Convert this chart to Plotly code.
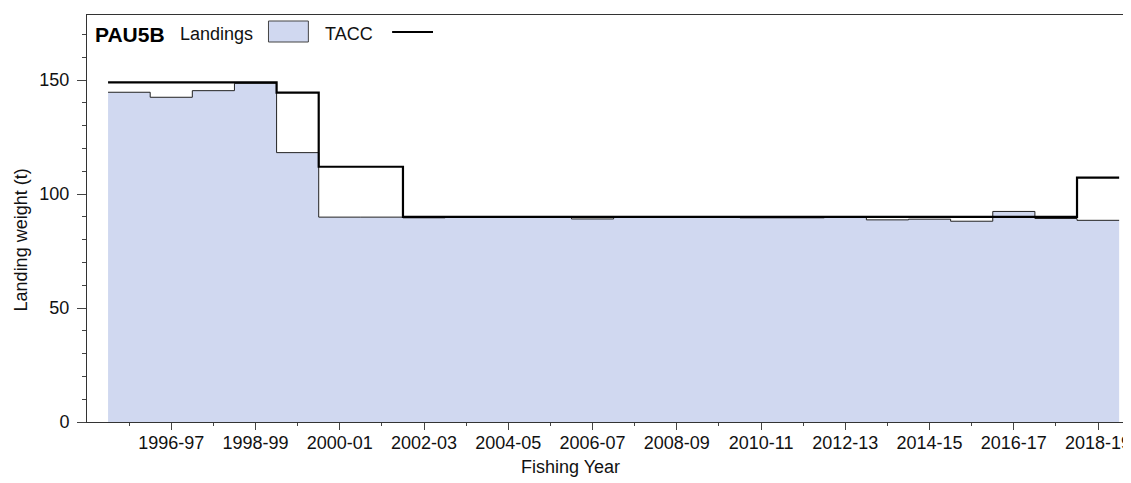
import plotly.graph_objects as go

# Fishing years (one step per year)
seasons = ['1995-96', '1996-97', '1997-98', '1998-99', '1999-00', '2000-01',
           '2001-02', '2002-03', '2003-04', '2004-05', '2005-06', '2006-07',
           '2007-08', '2008-09', '2009-10', '2010-11', '2011-12', '2012-13',
           '2013-14', '2014-15', '2015-16', '2016-17', '2017-18', '2018-19']

# Landings (t) and TACC (t)
landings = [144.7, 142.5, 145.4, 148.6, 118.2, 89.9, 89.9, 89.6, 90.0, 90.0,
            90.0, 89.1, 90.0, 90.0, 90.0, 89.6, 89.6, 90.0, 88.7, 89.0,
            88.1, 92.4, 89.3, 88.5]
tacc = [149.0, 149.0, 149.0, 149.0, 144.5, 112.0, 112.0, 90.0, 90.0, 90.0,
        90.0, 90.0, 90.0, 90.0, 90.0, 90.0, 90.0, 90.0, 90.0, 90.0,
        90.0, 90.0, 90.0, 107.2]

# step edges: each year occupies [i-0.5, i+0.5]
idx = list(range(len(seasons)))
edges = [i - 0.5 for i in idx] + [idx[-1] + 0.5]
land_y = landings + [landings[-1]]
tacc_y = tacc + [tacc[-1]]

font = 'Liberation Sans, Arial, sans-serif'
fill_col = '#d0d8f0'

fig = go.Figure()
fig.add_trace(go.Scatter(x=edges, y=land_y, mode='lines', line_shape='hv',
                         fill='tozeroy', fillcolor=fill_col,
                         line=dict(color='#222222', width=1),
                         hoverinfo='skip', name='Landings'))
fig.add_trace(go.Scatter(x=edges, y=tacc_y, mode='lines', line_shape='hv',
                         line=dict(color='black', width=2.2),
                         name='TACC'))

major = [i for i in idx if i % 2 == 1]
minor = [i for i in idx if i % 2 == 0]

# the page body has an 8px margin, so the figure is 8px smaller and margins shifted
fig.update_layout(
    width=1123, height=475,
    margin=dict(l=79, r=0, t=7, b=61),
    plot_bgcolor='white', paper_bgcolor='white',
    showlegend=False,
    font=dict(family=font, size=18, color='#111111'),
    xaxis=dict(range=[-1, 23.71], tickmode='array', tickvals=major,
               ticktext=[seasons[i] for i in major],
               ticks='outside', ticklen=7, tickcolor='#444', tickwidth=1,
               minor=dict(tickmode='array', tickvals=minor, ticks='outside',
                          ticklen=3, tickcolor='#444'),
               showline=True, linecolor='#333', linewidth=1, mirror=True,
               showgrid=False, zeroline=False, ticklabelstandoff=-3,
               ticklabeloverflow='allow'),
    yaxis=dict(range=[0, 178.6], tickvals=[0, 50, 100, 150],
               ticks='outside', ticklen=9, tickcolor='#444',
               minor=dict(dtick=10, tick0=0, ticks='outside', ticklen=4,
                          tickcolor='#444'),
               showline=True, linecolor='#333', linewidth=1,
               showgrid=False, zeroline=False, ticklabelstandoff=4),
)

# axis titles
fig.add_annotation(text='Fishing Year', xref='paper', yref='paper',
                   x=(572 - 87) / 1044, y=-0.11, showarrow=False,
                   xanchor='center', yanchor='middle', font=dict(size=18))
fig.add_annotation(text='Landing weight (t)', xref='paper', yref='paper',
                   x=-0.063, y=(422 - 240) / 407, showarrow=False, textangle=-90,
                   xanchor='center', yanchor='middle', font=dict(size=18))

# legend: text followed by its key
ly = (422 - 34) / 407
fig.add_annotation(text='<b>PAU5B</b>', xref='paper', yref='paper',
                   x=(93 - 87) / 1044, y=ly, showarrow=False,
                   xanchor='left', yanchor='middle', font=dict(size=21, color='black'))
fig.add_annotation(text='Landings', xref='paper', yref='paper',
                   x=(178 - 87) / 1044, y=ly, showarrow=False,
                   xanchor='left', yanchor='middle', font=dict(size=18))
fig.add_annotation(text='TACC', xref='paper', yref='paper',
                   x=(324 - 87) / 1044, y=ly, showarrow=False,
                   xanchor='left', yanchor='middle', font=dict(size=18))
fig.add_shape(type='rect', xref='paper', yref='paper',
              x0=(269 - 87) / 1044, x1=(309 - 87) / 1044,
              y0=(422 - 42) / 407, y1=(422 - 21) / 407,
              fillcolor=fill_col, line=dict(color='#444', width=1))
fig.add_shape(type='line', xref='paper', yref='paper',
              x0=(393 - 87) / 1044, x1=(434 - 87) / 1044,
              y0=(422 - 32) / 407, y1=(422 - 32) / 407,
              line=dict(color='black', width=2))

fig.write_html('out.html')
